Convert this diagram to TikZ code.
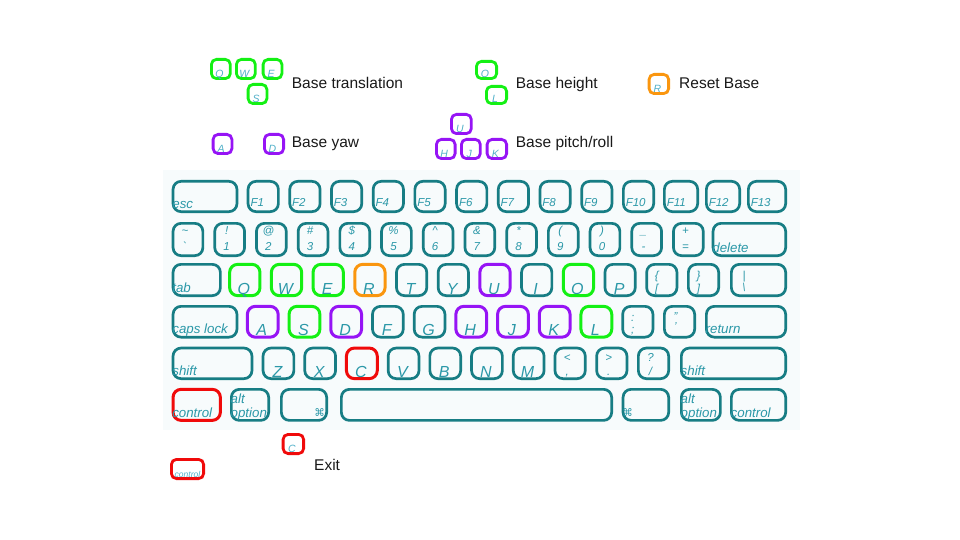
\documentclass[tikz,border=0pt]{standalone}
\usepackage{fontspec}
\setmainfont{Liberation Sans}
\newfontfamily\symfont{DejaVu Sans}
\definecolor{keyline}{RGB}{23,125,132}
\definecolor{keytext}{RGB}{43,152,168}
\definecolor{lgtext}{RGB}{80,175,200}
\definecolor{hlgreen}{RGB}{20,240,20}
\definecolor{hlpurple}{RGB}{150,20,245}
\definecolor{hlorange}{RGB}{250,150,15}
\definecolor{hlred}{RGB}{240,10,10}
\definecolor{kbbg}{RGB}{247,251,252}
\definecolor{txt}{RGB}{25,25,25}
\tikzset{
  kb/.style={draw=keyline,line width=2.7pt,rounded corners=8pt,inner sep=0pt},
  lk/.style={line width=2.8pt,rounded corners=5pt,inner sep=0pt},
  gk/.style={draw=hlgreen,line width=3pt},
  pk/.style={draw=hlpurple,line width=3pt},
  ok/.style={draw=hlorange,line width=3pt},
  rk/.style={draw=hlred,line width=3pt},
  plainkey/.style={},
  letlab/.style={text=keytext,inner sep=0pt,font=\fontsize{16}{17}\selectfont\itshape},
  smalllab/.style={text=keytext,inner sep=0pt,font=\fontsize{11.5}{13}\selectfont\itshape},
  wordlab/.style={text=keytext,inner sep=0pt,font=\fontsize{13.3}{15}\selectfont\itshape},
  cmdlab/.style={text=keytext,inner sep=0pt,font=\fontsize{10.5}{11}\selectfont\symfont},
  lglab/.style={text=lgtext,inner sep=0pt,font=\fontsize{10.5}{11}\selectfont\itshape},
  legtext/.style={text=txt,inner sep=0pt,font=\fontsize{15.5}{18}\selectfont},
}
% keyboard key: [style]{name}{x1}{x2}{y1}{y2}
\newcommand\kbkey[6][]{\node[kb,#1,minimum width={#4-#3-2.7},minimum height={#6-#5-2.7}] (#2) at ({(#3+#4)/2},{(#5+#6)/2}) {};}
% legend key: [style]{name}{x1}{x2}{y1}{y2}{label}
\newcommand\lgkey[7][]{\node[lk,#1,minimum width={#4-#3-2.8},minimum height={#6-#5-2.8}] (#2) at ({(#3+#4)/2},{(#5+#6)/2}) {};
  \node[lglab,anchor=base] (#2-l) at ([xshift=-1.5pt,yshift=2.8pt]#2.south) {#7};}
\begin{document}
\begin{tikzpicture}[x=1pt,y=-1pt]
\useasboundingbox (0,0) rectangle (960,540);
\fill[kbbg] (163,170) rectangle (800,430);

% ---------- row 1 ----------
\kbkey{esc}{171.7}{238.3}{180}{213}
\node[wordlab,anchor=base west] (esc-l) at ([xshift=0.5pt,yshift=4.7pt]esc.south west) {esc};
\foreach \i in {1,...,10} {
  \pgfmathsetmacro\xa{246.7+41.7*(\i-1)}
  \kbkey{F\i}{\xa}{\xa+33}{180}{213}
  \node[smalllab,anchor=base west] (F\i-l) at ([xshift=3.6pt,yshift=6.6pt]F\i.south west) {F\i};
}
\kbkey{F11}{663}{699}{180}{213}
\node[smalllab,anchor=base west] (F11-l) at ([xshift=3.6pt,yshift=6.6pt]F11.south west) {F11};
\kbkey{F12}{705}{741}{180}{213}
\node[smalllab,anchor=base west] (F12-l) at ([xshift=3.6pt,yshift=6.6pt]F12.south west) {F12};
\kbkey{F13}{747}{787}{180}{213}
\node[smalllab,anchor=base west] (F13-l) at ([xshift=3.6pt,yshift=6.6pt]F13.south west) {F13};

% ---------- row 2 ----------
\foreach \t/\b [count=\i from 0] in {{\textasciitilde}/{\textasciigrave}, {!}/{1}, {@}/{2}, {\#}/{3}, {\$}/{4}, {\%}/{5}, {\textasciicircum}/{6}, {\&}/{7}, {*}/{8}, {(}/{9}, {)}/{0}, {\_}/{-}, {+}/{=}} {
  \pgfmathsetmacro\xa{171.7+41.7*\i}
  \kbkey{n\i}{\xa}{\xa+32.5}{222}{257}
  \node[smalllab,anchor=base] (n\i-b) at ([xshift=-3pt,yshift=6.8pt]n\i.south) {\b};
  \node[smalllab,anchor=base] (n\i-t) at ([xshift=-3pt,yshift=23pt]n\i.south) {\t};
}
\kbkey{del}{711.7}{787}{222}{257}
\node[wordlab,anchor=base west] (del-l) at ([xshift=0.5pt,yshift=4.7pt]del.south west) {delete};

% ---------- row 3 ----------
\kbkey{tab}{171.7}{221.7}{263}{297}
\node[wordlab,anchor=base west] (tab-l) at ([xshift=0.5pt,yshift=4.7pt]tab.south west) {tab};
\foreach \n/\s [count=\i from 0] in {Q/gk,W/gk,E/gk,R/ok,T/plainkey,Y/plainkey,U/pk,I/plainkey,O/gk,P/plainkey} {
  \pgfmathsetmacro\xa{228.3+41.7*\i}
  \kbkey[\s]{k\n}{\xa}{\xa+33}{263}{297}
  \node[letlab,anchor=base] (k\n-l) at ([xshift=-1pt,yshift=3pt]k\n.south) {\n};
}
\kbkey{lbr}{645.3}{678.3}{263}{297}
\node[smalllab,anchor=base] (lbr-b) at ([xshift=-5pt,yshift=4.5pt]lbr.south) {[};
\node[smalllab,anchor=base] (lbr-t) at ([xshift=-5pt,yshift=18pt]lbr.south) {\{};
\kbkey{rbr}{687}{720}{263}{297}
\node[smalllab,anchor=base] (rbr-b) at ([xshift=-5pt,yshift=4.5pt]rbr.south) {]};
\node[smalllab,anchor=base] (rbr-t) at ([xshift=-5pt,yshift=18pt]rbr.south) {\}};
\kbkey{bsl}{730}{787}{263}{297}
\node[smalllab,anchor=base] (bsl-b) at ([xshift=14pt,yshift=6pt]bsl.south west) {\textbackslash};
\node[smalllab,anchor=base] (bsl-t) at ([xshift=14pt,yshift=18pt]bsl.south west) {|};

% ---------- row 4 ----------
\kbkey{caps}{171.7}{238.3}{305}{338.5}
\node[wordlab,anchor=base west] (caps-l) at ([xshift=0.5pt,yshift=4.7pt]caps.south west) {caps lock};
\foreach \n/\s [count=\i from 0] in {A/pk,S/gk,D/pk,F/plainkey,G/plainkey,H/pk,J/pk,K/pk,L/gk} {
  \pgfmathsetmacro\xa{246+41.7*\i}
  \kbkey[\s]{k\n}{\xa}{\xa+33.5}{305}{338.5}
  \node[letlab,anchor=base] (k\n-l) at ([xshift=-1pt,yshift=3pt]k\n.south) {\n};
}
\kbkey{semi}{621.3}{654.3}{305}{338.5}
\node[smalllab,anchor=base] (semi-b) at ([xshift=-5pt,yshift=5pt]semi.south) {;};
\node[smalllab,anchor=base] (semi-t) at ([xshift=-5pt,yshift=17pt]semi.south) {:};
\kbkey{quot}{663}{696}{305}{338.5}
\node[smalllab,anchor=base] (quot-b) at ([xshift=-4pt,yshift=8pt]quot.south) {'};
\node[smalllab,anchor=base] (quot-t) at ([xshift=-4pt,yshift=18pt]quot.south) {"};
\kbkey{ret}{705}{787}{305}{338.5}
\node[wordlab,anchor=base west] (ret-l) at ([xshift=0.5pt,yshift=4.7pt]ret.south west) {return};

% ---------- row 5 ----------
\kbkey{lsh}{171.7}{253.3}{346.7}{380}
\node[wordlab,anchor=base west] (lsh-l) at ([xshift=0.5pt,yshift=4.7pt]lsh.south west) {shift};
\foreach \n/\s [count=\i from 0] in {Z/plainkey,X/plainkey,C/rk,V/plainkey,B/plainkey,N/plainkey,M/plainkey} {
  \pgfmathsetmacro\xa{261.7+41.7*\i}
  \kbkey[\s]{k\n}{\xa}{\xa+33.5}{346.7}{380}
  \node[letlab,anchor=base] (k\n-l) at ([xshift=-1pt,yshift=3pt]k\n.south) {\n};
}
\kbkey{comma}{553.6}{586.6}{346.7}{380}
\node[smalllab,anchor=base] (comma-b) at ([xshift=-3pt,yshift=5pt]comma.south) {,};
\node[smalllab,anchor=base] (comma-t) at ([xshift=-3pt,yshift=19pt]comma.south) {<};
\kbkey{per}{595.3}{628.3}{346.7}{380}
\node[smalllab,anchor=base] (per-b) at ([xshift=-3pt,yshift=5pt]per.south) {.};
\node[smalllab,anchor=base] (per-t) at ([xshift=-3pt,yshift=19pt]per.south) {>};
\kbkey{sla}{637}{670}{346.7}{380}
\node[smalllab,anchor=base] (sla-b) at ([xshift=-3pt,yshift=5pt]sla.south) {/};
\node[smalllab,anchor=base] (sla-t) at ([xshift=-3pt,yshift=19pt]sla.south) {?};
\kbkey{rsh}{680}{787}{346.7}{380}
\node[wordlab,anchor=base west] (rsh-l) at ([xshift=0.5pt,yshift=4.7pt]rsh.south west) {shift};

% ---------- row 6 ----------
\kbkey[rk]{lctl}{171.7}{221.7}{388}{421.7}
\node[wordlab,anchor=base west] (lctl-l) at ([xshift=0.5pt,yshift=4.7pt]lctl.south west) {control};
\kbkey{lalt}{230}{270}{388}{421.7}
\node[wordlab,anchor=base west] (lalt-b) at ([xshift=0.5pt,yshift=4.7pt]lalt.south west) {option};
\node[wordlab,anchor=base west] (lalt-t) at ([xshift=0.5pt,yshift=18pt]lalt.south west) {alt};
\kbkey{lcmd}{280}{328}{388}{421.7}
\node[cmdlab,anchor=base east] (lcmd-l) at ([xshift=-3pt,yshift=5pt]lcmd.south east) {⌘};
\kbkey{space}{340}{613}{388}{421.7}
\kbkey{rcmd}{621.7}{670}{388}{421.7}
\node[cmdlab,anchor=base west] (rcmd-l) at ([xshift=0.5pt,yshift=5pt]rcmd.south west) {⌘};
\kbkey{ralt}{680}{721.7}{388}{421.7}
\node[wordlab,anchor=base west] (ralt-b) at ([xshift=0.5pt,yshift=4.7pt]ralt.south west) {option};
\node[wordlab,anchor=base west] (ralt-t) at ([xshift=0.5pt,yshift=18pt]ralt.south west) {alt};
\kbkey{rctl}{730}{787}{388}{421.7}
\node[wordlab,anchor=base west] (rctl-l) at ([xshift=0.5pt,yshift=4.7pt]rctl.south west) {control};

% ---------- legend ----------
\lgkey[draw=hlgreen]{lQ}{210}{231.7}{58}{80}{Q}
\lgkey[draw=hlgreen]{lW}{235}{256.7}{58}{80}{W}
\lgkey[draw=hlgreen]{lE}{261.7}{283.3}{58}{80}{E}
\lgkey[draw=hlgreen]{lS}{246.7}{268.3}{83}{105}{S}
\node[legtext,anchor=base west] (ttrans) at (291.7,89) {Base translation};

\lgkey[draw=hlpurple]{lA}{211.7}{233.3}{133}{155}{A}
\lgkey[draw=hlpurple]{lD}{263}{285}{133}{155}{D}
\node[legtext,anchor=base west] (tyaw) at (291.7,148) {Base yaw};

\lgkey[draw=hlgreen]{lO}{475}{498}{60}{80}{O}
\lgkey[draw=hlgreen]{lL}{485}{508}{85}{105}{L}
\node[legtext,anchor=base west] (theight) at (515.7,89) {Base height};

\lgkey[draw=hlorange]{lR}{647.7}{670}{73}{95}{R}
\node[legtext,anchor=base west] (treset) at (679,89) {Reset Base};

\lgkey[draw=hlpurple]{lU}{450}{472.7}{113}{135}{U}
\lgkey[draw=hlpurple]{lH}{435}{456.5}{138}{160}{H}
\lgkey[draw=hlpurple]{lJ}{460}{481.7}{138}{160}{J}
\lgkey[draw=hlpurple]{lK}{485.7}{508}{138}{160}{K}
\node[legtext,anchor=base west] (tpitch) at (515.7,148) {Base pitch/roll};

\lgkey[draw=hlred]{lC}{281.7}{305}{433}{455}{C}
\node[lk,draw=hlred,minimum width=32.2,minimum height=19.2] (lctrl) at (187.5,469) {};
\node[lglab,anchor=base,font=\fontsize{8.5}{10}\selectfont\itshape] (lctrl-l) at ([yshift=3pt]lctrl.south) {control};
\node[legtext,anchor=base west] (texit) at (314,470) {Exit};
\end{tikzpicture}
\end{document}
